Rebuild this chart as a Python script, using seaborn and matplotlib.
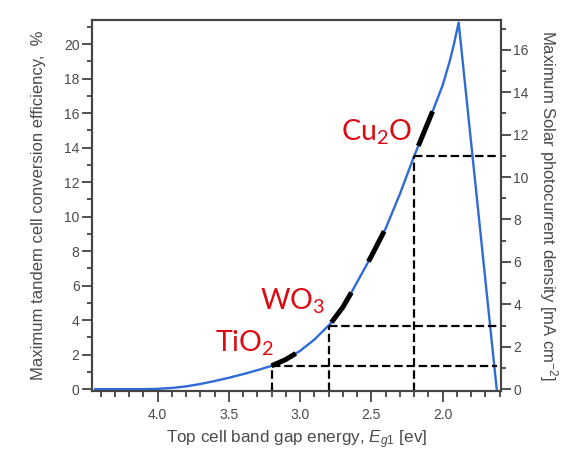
import numpy as np
import pandas as pd
import matplotlib
matplotlib.use("Agg")
import matplotlib.pyplot as plt
from matplotlib.ticker import MultipleLocator
import seaborn as sns

# ---- data ----
energy = [4.44, 4.3, 4.2, 4.1, 4.0, 3.9, 3.8, 3.7, 3.6, 3.5, 3.4, 3.3, 3.2, 3.1, 3.03,
          3.0, 2.9, 2.8, 2.78, 2.7, 2.64, 2.6, 2.52, 2.5, 2.41, 2.4, 2.3, 2.2, 2.17,
          2.1, 2.07, 2.0, 1.95, 1.92, 1.887, 1.62]
efficiency = [0, 0, 0, 0, 0.02, 0.07, 0.16, 0.30, 0.47, 0.66, 0.87, 1.10, 1.35, 1.72, 2.07,
              2.22, 2.87, 3.69, 3.87, 4.75, 5.6, 6.2, 7.4, 7.7, 9.15, 9.3, 11.3, 13.5, 14.1,
              15.5, 16.1, 17.6, 19.0, 20.0, 21.25, 0]

materials = ["TiO$_\\mathregular{2}$", "WO$_\\mathregular{3}$", "Cu$_\\mathregular{2}$O"]
gap_energy = [3.2, 2.8, 2.2]          # eV
photocurrent = [1.1, 3.0, 11.0]       # mA cm^-2 (right axis)
# highlighted ranges along the curve (black dashes)
highlight_ranges = [(3.2, 3.03), (2.78, 2.64), (2.52, 2.41), (2.17, 2.07)]

# ---- styling ----
sns.set_style("ticks")
plt.rcParams["font.family"] = ["Liberation Sans", "DejaVu Sans"]
plt.rcParams["mathtext.fontset"] = "custom"
plt.rcParams["mathtext.rm"] = "Liberation Sans"
plt.rcParams["mathtext.it"] = "Liberation Sans:italic"

BLUE = "#2f6bd6"
RED = "#dd0a12"
AXC = "#444444"
TXT = "#4a4a4a"

left_lim = (-0.1, 21.4)
scale = 17.28 / 21.25                 # right-axis units per left-axis unit
right_lim = (left_lim[0] * scale, left_lim[1] * scale)

fig = plt.figure(figsize=(5.68, 4.54), dpi=100)
ax = fig.add_axes([0.162, 0.139, 0.72, 0.817])

df = pd.DataFrame({"energy": energy, "efficiency": efficiency})
sns.lineplot(data=df, x="energy", y="efficiency", ax=ax, color=BLUE, lw=1.7,
             estimator=None, sort=False)

seg_frames = []
for i, (hi, lo) in enumerate(highlight_ranges):
    sub = df[(df["energy"] <= hi) & (df["energy"] >= lo)].copy()
    sub["seg"] = i
    seg_frames.append(sub)
segs = pd.concat(seg_frames)
sns.lineplot(data=segs, x="energy", y="efficiency", units="seg", ax=ax, color="black",
             lw=3.6, estimator=None, sort=False, solid_capstyle="butt")

ax.set_xlim(4.46, 1.59)
ax.set_ylim(*left_lim)

dash = (0, (3.8, 1.7))
x_end = energy[-1]
for g, j in zip(gap_energy, photocurrent):
    level = j / scale
    ax.plot([g, g], [left_lim[0], level], color="black", lw=1.6, linestyle=dash)
    ax.plot([g, x_end], [level, level], color="black", lw=1.6, linestyle=dash)

label_pos = [(3.6, 2.18), (3.28, 4.59), (2.71, 14.4)]
for name, (lx, ly) in zip(materials, label_pos):
    ax.text(lx, ly, name, color=RED, fontsize=20.5, family=["Lato", "DejaVu Sans"],
            ha="left", va="baseline")

ax.xaxis.set_major_locator(MultipleLocator(0.5))
ax.xaxis.set_minor_locator(MultipleLocator(0.1))
ax.yaxis.set_major_locator(MultipleLocator(2))
ax.yaxis.set_minor_locator(MultipleLocator(1))
ax.set_xticks([4.0, 3.5, 3.0, 2.5, 2.0])
ax.set_xticklabels(["4.0", "3.5", "3.0", "2.5", "2.0"])

ax2 = ax.twinx()
ax2.set_ylim(*right_lim)
ax2.yaxis.set_major_locator(MultipleLocator(2))
ax2.yaxis.set_minor_locator(MultipleLocator(1))

for a in (ax, ax2):
    for s in a.spines.values():
        s.set_color(AXC)
        s.set_linewidth(1.5)
    a.tick_params(which="major", direction="out", length=7, width=1.3, color=AXC,
                  labelsize=10, labelcolor=TXT, pad=2)
    a.tick_params(which="minor", direction="out", length=3.5, width=1.3, color=AXC)
ax.tick_params(axis="x", which="major", length=8, pad=4)
ax.tick_params(axis="x", which="minor", length=4)

ax.set_xlabel("Top cell band gap energy, $E_{g1}$ [ev]", fontsize=12.3, color=TXT, labelpad=5)
ax.set_ylabel("Maximum tandem cell conversion efficiency,  %", fontsize=12, color=TXT,
              labelpad=13)
ax2.set_ylabel("Maximum Solar photocurrent density [mA cm$^{-2}$]", fontsize=12,
               color=TXT, rotation=270, labelpad=22)

fig.savefig("out.png", dpi=100)
